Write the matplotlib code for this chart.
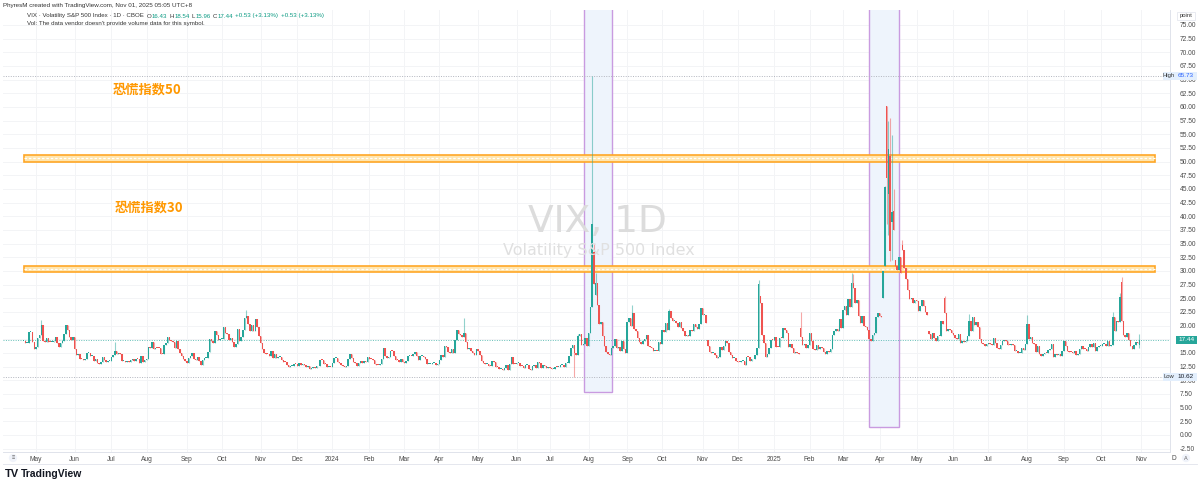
import numpy as np
import pandas as pd
import matplotlib.pyplot as plt
from matplotlib.patches import Rectangle, FancyBboxPatch

plt.rcParams['font.family'] = ['Liberation Sans', 'DejaVu Sans']

# VIX daily closes, 2023-04-20 .. 2025-10-31 (one row per month)
vix_2023 = [
    17.16, 16.77, 16.89, 18.76, 18.84, 17.03, 15.78,
    16.08, 17.78, 18.34, 20.09, 17.19, 16.98, 17.71, 16.94, 16.93, 17.03, 17.12, 17.99, 16.87, 16.05, 16.81, 17.21, 18.53, 20.03, 19.14, 17.95, 17.46, 17.94,
    15.65, 14.60, 14.73, 13.96, 13.94, 13.65, 13.83, 15.01, 15.01, 14.50, 14.50, 13.54, 13.88, 13.20, 12.91, 13.44, 14.25, 13.74, 13.43, 13.54, 13.59,
    14.18, 14.69, 15.44, 14.83, 15.07, 14.84, 13.54, 13.61, 13.34, 13.48, 13.30, 13.76, 13.99, 13.60, 13.91, 13.86, 13.19, 14.41, 13.33, 13.63,
    13.93, 16.09, 15.92, 17.10, 15.77, 15.99, 15.96, 15.85, 14.84, 14.82, 16.46, 16.78, 17.89, 17.30, 17.13, 16.98, 15.98, 17.20, 15.68, 15.08, 14.45, 13.88, 13.57,
    13.09, 14.02, 14.45, 15.06, 13.84, 13.80, 14.23, 13.48, 12.82, 13.79, 14.00, 14.11, 15.14, 17.54, 17.20, 16.90, 18.94, 18.22, 17.34, 17.52,
    17.61, 19.78, 18.58, 18.49, 17.45, 17.70, 17.03, 16.09, 16.69, 19.32, 17.21, 17.88, 19.22, 21.40, 21.71, 20.37, 18.97, 20.19, 18.97, 21.27, 19.75, 18.14,
    16.87, 15.66, 14.91, 14.89, 14.81, 14.45, 15.29, 14.17, 14.76, 14.16, 14.18, 14.32, 13.80, 13.41, 13.35, 12.85, 12.46, 12.69, 12.69, 12.98, 12.92,
    12.63, 13.08, 12.85, 12.97, 12.76, 12.35, 12.63, 12.07, 12.19, 12.48, 12.28, 12.56, 12.53, 13.67, 13.65, 13.03, 12.99, 12.43, 12.47, 12.45,
]
vix_2024 = [
    13.20, 14.04, 14.13, 13.35, 13.08, 12.76, 12.69, 12.44, 12.70, 13.84, 14.79, 14.13, 13.30, 13.19, 12.55, 13.14, 13.45, 13.26, 13.60, 13.31, 14.35,
    13.88, 13.85, 13.67, 13.06, 12.83, 12.79, 12.93, 13.93, 15.85, 14.38, 14.01, 14.24, 15.42, 15.34, 14.54, 13.75, 13.74, 13.43, 13.84, 13.40,
    13.11, 13.49, 14.46, 14.50, 14.44, 14.74, 15.23, 14.46, 13.75, 14.40, 14.41, 14.33, 13.82, 12.92, 13.06, 13.06, 13.19, 13.24, 12.78, 13.01,
    13.65, 14.61, 14.33, 16.35, 16.03, 15.19, 14.98, 15.80, 14.91, 17.31, 19.23, 18.40, 18.21, 18.00, 18.71, 16.94, 15.69, 15.97, 15.37, 15.03, 14.67, 15.65,
    15.39, 14.68, 13.49, 13.23, 13.00, 13.00, 12.69, 12.55, 13.60, 13.42, 12.45, 12.42, 11.99, 12.15, 11.86, 12.29, 12.77, 11.93, 12.92, 14.28, 13.06, 12.92,
    13.11, 13.16, 12.63, 12.58, 12.22, 12.74, 12.85, 12.04, 11.94, 12.66, 12.75, 12.30, 13.28, 13.20, 12.33, 12.84, 12.55, 12.24, 12.44,
    12.22, 12.03, 12.09, 12.48, 12.37, 12.51, 12.85, 12.89, 12.46, 13.12, 13.19, 14.48, 15.93, 16.52, 14.91, 14.72, 18.04, 18.46, 16.39, 16.60, 17.69, 16.36,
    18.59, 23.39, 38.57, 27.71, 27.85, 23.79, 20.37, 20.71, 18.12, 16.19, 15.23, 14.80, 14.65, 15.88, 16.27, 17.55, 15.86, 16.15, 15.43, 17.11, 15.65, 15.00,
    20.72, 21.32, 19.90, 22.38, 19.45, 19.08, 17.69, 17.07, 16.56, 17.14, 17.61, 18.23, 16.33, 16.15, 15.89, 15.39, 15.41, 15.37, 16.96, 16.73,
    19.26, 18.90, 20.49, 19.21, 22.64, 21.42, 20.86, 20.93, 20.46, 19.70, 20.64, 19.58, 19.11, 18.03, 18.37, 18.20, 19.24, 19.08, 20.33, 19.80, 19.34, 20.35, 23.16,
    21.88, 21.98, 20.49, 16.27, 15.20, 14.94, 14.97, 14.71, 14.02, 14.31, 16.14, 15.58, 16.35, 17.16, 16.87, 15.24, 14.60, 14.10, 14.10, 13.51,
    13.34, 13.30, 13.45, 13.54, 12.77, 14.19, 14.18, 13.58, 13.92, 13.81, 14.69, 15.87, 27.62, 24.09, 18.36, 16.78, 14.27, 14.73, 15.95, 17.40, 17.35,
]
vix_2025 = [
    17.93, 16.13, 16.04, 17.82, 17.70, 19.54, 19.19, 18.71, 16.12, 16.60, 15.97, 15.06, 15.10, 15.02, 14.85, 17.90, 16.41, 16.56, 15.84, 16.43,
    18.62, 17.21, 15.77, 15.50, 16.54, 15.81, 16.02, 15.89, 15.10, 14.77, 15.35, 15.27, 15.66, 18.21, 18.98, 19.43, 19.10, 21.13, 19.63,
    22.78, 23.51, 21.93, 24.87, 23.37, 27.86, 26.92, 24.23, 24.66, 21.77, 20.51, 21.70, 19.90, 19.80, 19.28, 17.48, 17.15, 18.33, 18.69, 21.65, 22.28,
    21.77, 21.51, 30.02, 45.31, 46.98, 52.33, 33.62, 40.72, 37.56, 30.89, 30.12, 32.64, 29.65, 33.82, 30.57, 28.45, 26.47, 24.84, 25.15, 24.17, 24.70,
    24.60, 22.68, 23.64, 24.76, 23.55, 22.48, 21.90, 18.39, 17.61, 18.62, 17.83, 17.24, 18.14, 18.09, 20.87, 20.28, 22.29, 18.96, 19.31, 19.18, 18.57,
    18.36, 17.69, 17.61, 18.48, 16.77, 17.16, 16.95, 17.26, 18.02, 20.82, 19.11, 21.60, 20.14, 20.62, 19.83, 17.48, 16.76, 16.59, 16.32, 16.73,
    16.83, 16.64, 16.38, 17.79, 16.81, 15.94, 15.78, 16.40, 17.20, 17.38, 17.16, 16.52, 16.41, 16.65, 16.50, 15.37, 15.39, 14.93, 15.03, 15.98, 15.48, 16.72,
    20.38, 17.52, 17.85, 16.77, 16.57, 15.15, 16.25, 14.73, 14.49, 14.83, 15.09, 14.99, 15.57, 15.69, 16.60, 14.22, 14.79, 14.62, 14.85, 14.43, 15.36,
    17.17, 16.35, 15.30, 15.18, 15.11, 15.04, 15.35, 14.71, 14.76, 15.69, 16.36, 15.72, 15.70, 15.45, 16.10, 16.64, 16.18, 16.74, 15.29, 16.12, 16.28,
    16.29, 16.63, 16.65, 16.37, 17.24, 16.30, 16.43, 21.66, 19.03, 20.81, 20.64, 25.31, 20.78, 18.23, 17.87, 18.60, 17.30, 16.37, 15.79, 16.42, 16.92, 16.91, 17.44,
]

# opens / highs / lows that differ from "open = previous close, wick = body"
open_fix = {
    "2024-08-06": 33.5, "2024-08-07": 25.6, "2024-11-06": 17.4, "2024-12-19": 25.5,
    "2025-01-27": 19.6, "2025-04-03": 25.0, "2025-04-04": 31.0, "2025-04-07": 60.13,
    "2025-04-08": 44.0, "2025-04-09": 50.98, "2025-04-10": 39.0, "2025-04-11": 41.0,
    "2025-04-14": 32.0, "2025-04-21": 34.8, "2025-05-12": 19.0, "2025-05-23": 25.0,
    "2025-10-10": 16.4, "2025-10-16": 20.6, "2025-10-17": 28.0, "2025-10-31": 16.43,
}
high_fix = {
    "2023-05-04": 21.0, "2023-07-06": 17.1, "2023-10-20": 22.9, "2024-04-19": 21.36,
    "2024-07-24": 18.5, "2024-08-05": 65.73, "2024-08-06": 35.0, "2024-08-07": 29.7,
    "2024-09-06": 23.76, "2024-10-07": 23.1, "2024-12-18": 28.32, "2025-01-27": 22.51,
    "2025-03-10": 29.57, "2025-03-11": 29.5, "2025-04-04": 45.6, "2025-04-08": 57.5,
    "2025-04-09": 57.96, "2025-04-10": 54.87, "2025-04-11": 45.0, "2025-04-21": 35.75,
    "2025-05-23": 25.5, "2025-06-13": 22.2, "2025-08-01": 21.9, "2025-10-10": 22.44,
    "2025-10-16": 25.9, "2025-10-17": 28.99, "2025-10-31": 18.54,
}
low_fix = {
    "2024-07-22": 10.62, "2025-04-07": 38.58, "2025-04-08": 36.5, "2025-04-09": 31.9,
    "2025-04-10": 32.0, "2025-10-31": 15.96,
}

holidays = ["2023-05-29", "2023-06-19", "2023-07-04", "2023-09-04", "2023-11-23", "2023-12-25",
            "2024-01-01", "2024-01-15", "2024-02-19", "2024-03-29", "2024-05-27", "2024-06-19",
            "2024-07-04", "2024-09-02", "2024-11-28", "2024-12-25", "2025-01-01", "2025-01-09",
            "2025-01-20", "2025-02-17", "2025-04-18", "2025-05-26", "2025-06-19", "2025-07-04",
            "2025-09-01"]

band_levels = [(50.0, 51.2), (29.9, 31.0)]
band_labels = ["恐慌指数50", "恐慌指数30"]
high_val, low_val, last_val = 65.73, 10.62, 17.44

dates = pd.bdate_range("2023-04-20", "2025-10-31")
dates = dates[~dates.isin(pd.to_datetime(holidays))]
closes = np.array(vix_2023 + vix_2024 + vix_2025, dtype=float)
if len(dates) != len(closes):
    raise ValueError(f"dates {len(dates)} closes {len(closes)}")
keys = [d.strftime("%Y-%m-%d") for d in dates]
opens = np.r_[closes[0], closes[:-1]]
for i, k in enumerate(keys):
    if k in open_fix:
        opens[i] = open_fix[k]
highs = np.maximum(opens, closes)
lows = np.minimum(opens, closes)
for i, k in enumerate(keys):
    if k in high_fix:
        highs[i] = high_fix[k]
    if k in low_fix:
        lows[i] = low_fix[k]
idx = np.arange(len(closes))

W, H = 1200, 487
def fx(px): return px / W
def fy(py): return 1 - py / H

fig = plt.figure(figsize=(12, 4.87), dpi=100)
ax = fig.add_axes([fx(3), fy(452), fx(1167), (452 - 10) / H])
ppb = 1.754  # pixels per bar
x0 = 7 - 33 / ppb
ax.set_xlim(x0, x0 + 1167 / ppb)
ax.set_ylim(-3.11, 77.74)

up, dn = '#26a69a', '#ef5350'

# month ticks
mstarts = [i for i in range(1, len(dates)) if dates[i].month != dates[i - 1].month]
mlabels = [str(dates[i].year) if dates[i].month == 1 else dates[i].strftime('%b') for i in mstarts]
mstarts.append(len(dates))
mlabels.append('Nov')
for m in mstarts:
    ax.axvline(m, color='#f3f4f6', lw=0.7, zorder=0)
yt = np.arange(-2.5, 75.1, 2.5)
for v in yt:
    ax.axhline(v, color='#f3f4f6', lw=0.7, zorder=0)

# highlight boxes
for (a, b, lo) in [(319.4, 335.4, 7.87), (481.9, 499.0, 1.46)]:
    ax.add_patch(Rectangle((a, lo), b - a, 90 - lo, facecolor='#eef4fc', edgecolor='#c99be0',
                           lw=1.0, zorder=1))

# bands
for (lo, hi) in band_levels:
    ax.add_patch(Rectangle((0, lo), 645, hi - lo, facecolor='#ffe6b0', edgecolor='#ffa726',
                           lw=1.2, zorder=2))
    ax.plot([0, 645], [(lo + hi) / 2] * 2, color='white', lw=0.9, ls=(0, (2, 1.5)), zorder=2)

# reference lines
ax.axhline(high_val, color='#b2b5be', lw=0.7, ls=(0, (1, 1.5)), zorder=1)
ax.axhline(low_val, color='#b2b5be', lw=0.7, ls=(0, (1, 1.5)), zorder=1)
ax.axhline(last_val, color='#26a69a', lw=0.7, ls=(0, (1, 1.5)), alpha=0.7, zorder=1)

# candles
col = np.where(closes >= opens, up, dn)
ax.vlines(idx, lows, highs, colors=col, lw=0.8, alpha=0.5, zorder=3)
body_lo = np.minimum(opens, closes)
body_h = np.maximum(np.abs(closes - opens), 0.18)
ax.bar(idx, body_h, bottom=body_lo, width=0.85, color=col, lw=0, zorder=4)

# band labels
ax.text(50.9, 63.1, band_labels[0], color='#ff9800', fontsize=9.5, fontweight='bold',
        family=['Noto Sans CJK SC', 'DejaVu Sans'], va='center', ha='left', zorder=5)
ax.text(52.0, 41.5, band_labels[1], color='#ff9800', fontsize=9.5, fontweight='bold',
        family=['Noto Sans CJK SC', 'DejaVu Sans'], va='center', ha='left', zorder=5)

# axes styling
for s in ['top', 'left']:
    ax.spines[s].set_visible(False)
ax.spines['bottom'].set_color('#e0e3eb')
ax.spines['right'].set_color('#e0e3eb')
ax.spines['bottom'].set_linewidth(0.7)
ax.spines['right'].set_linewidth(0.7)
ax.set_xticks(mstarts)
ax.set_xticklabels(mlabels)
ax.yaxis.tick_right()
ax.set_yticks(yt)
ax.set_yticklabels([f'{v:.2f}' for v in yt])
ax.tick_params(axis='x', length=0, pad=3, labelsize=4.8, labelcolor='#4a4a4a')
ax.tick_params(axis='y', length=0, pad=7, labelsize=4.8, labelcolor='#4a4a4a')
ax.set_facecolor('white')

# watermark
fig.text(fx(597), fy(222), 'VIX, 1D', fontsize=27, color='#dcdcdc', ha='center', va='center',
         family='DejaVu Sans')
fig.text(fx(599), fy(250), 'Volatility S&P 500 Index', fontsize=11.5, color='#e0e0e0',
         ha='center', va='center', family='DejaVu Sans')

# header
rend = fig.canvas.get_renderer()
def seq(x_px, y_px, pieces, fs):
    x = x_px
    for txt, c, gap in pieces:
        t = fig.text(fx(x), fy(y_px), txt, fontsize=fs, color=c, va='center')
        x += t.get_window_extent(renderer=rend).width + gap

fig.text(fx(3), fy(6), 'PhyresM created with TradingView.com, Nov 01, 2025 05:05 UTC+8',
         fontsize=4.5, color='#333333', va='center')
dark, teal = '#333333', '#089981'
seq(27, 16, [('VIX · Volatility S&P 500 Index · 1D · CBOE', dark, 3),
             ('O', dark, 0.3), ('16.43', teal, 2), ('H', dark, 0.3), ('18.54', teal, 2),
             ('L', dark, 0.3), ('15.96', teal, 2), ('C', dark, 0.3), ('17.44', teal, 2.5),
             ('+0.53 (+3.13%)', teal, 2.5), ('+0.53 (+3.13%)', teal, 0)], 4.4)
fig.text(fx(27), fy(24), "Vol: The data vendor doesn't provide volume data for this symbol.",
         fontsize=4.4, color=dark, va='center')

# price axis labels
def box(x, py, w, fc, ec='none', lw=0):
    fig.patches.append(FancyBboxPatch((fx(x), fy(py + 4)), fx(w), 8 / H, boxstyle='square,pad=0',
                                      transform=fig.transFigure, facecolor=fc, edgecolor=ec,
                                      lw=lw, zorder=10))

def y_of(v): return 435 - 5.467 * v

box(1163, y_of(high_val), 34, '#e3effd')
fig.text(fx(1169), fy(y_of(high_val)), 'High', fontsize=4.2, color=dark, ha='center', va='center', zorder=11)
fig.text(fx(1186), fy(y_of(high_val)), '65.73', fontsize=4.6, color='#2962ff', ha='center', va='center', zorder=11)
box(1163, y_of(low_val), 34, '#e3effd')
fig.text(fx(1169), fy(y_of(low_val)), 'Low', fontsize=4.2, color=dark, ha='center', va='center', zorder=11)
fig.text(fx(1186), fy(y_of(low_val)), '10.62', fontsize=4.6, color='#131722', ha='center', va='center', zorder=11)
box(1176, y_of(last_val), 21, '#26a69a')
fig.text(fx(1186.5), fy(y_of(last_val)), '17.44', fontsize=4.6, color='white', ha='center', va='center', zorder=11)
box(1177, 16, 18, 'white', ec='#e0e3eb', lw=0.5)
fig.text(fx(1186), fy(16), 'point', fontsize=4.2, color=dark, ha='center', va='center', zorder=11)

# bottom bits
fig.text(fx(1172), fy(458), 'D', fontsize=4.8, color='#4a4a4a', va='center')
fig.text(fx(13), fy(458), '≡', fontsize=4, color='#666666', ha='center', va='center',
         bbox=dict(boxstyle='circle,pad=0.3', fc='#f0f3fa', ec='none'))
fig.text(fx(1186), fy(458), 'A', fontsize=4, color='#666666', ha='center', va='center',
         bbox=dict(boxstyle='circle,pad=0.3', fc='#f0f3fa', ec='none'))
fig.lines.append(plt.Line2D([fx(3), fx(1197)], [fy(464), fy(464)], transform=fig.transFigure,
                            color='#e0e3eb', lw=0.6))
fig.text(fx(5), fy(474), 'TV', fontsize=8, fontweight='bold', color='#131722', va='center')
fig.text(fx(21), fy(474), 'TradingView', fontsize=7.5, fontweight='bold', color='#131722',
         va='center')

fig.savefig('out.png', dpi=100)
